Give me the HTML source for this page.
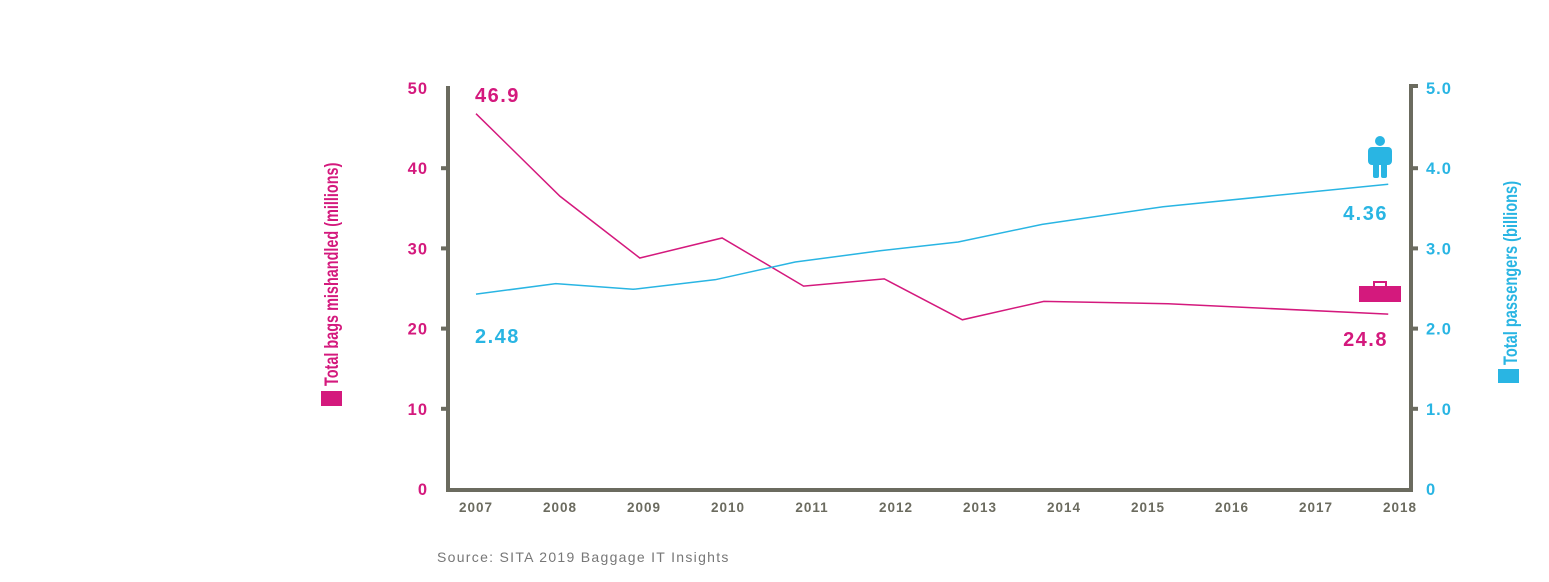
<!DOCTYPE html>
<html><head><meta charset="utf-8"><style>
body{margin:0;background:#fff;width:1549px;height:582px;overflow:hidden}
svg{display:block}
text{font-family:"Liberation Sans",sans-serif}
</style></head><body>
<svg width="1549" height="582">
<g id="axes"></g><g id="marks"></g>
<text x="437" y="562" font-size="14" fill="#777" letter-spacing="1.3">Source: SITA 2019 Baggage IT Insights</text>
<g transform="translate(338,386) rotate(-90)"><text x="0" y="0" font-size="19" font-weight="bold" fill="#d4197d" transform="scale(0.76,1)">Total bags mishandled (millions)</text></g>
<rect x="321" y="391" width="21" height="15" fill="#d4197d"/>
<g transform="translate(1517,365) rotate(-90)"><text x="0" y="0" font-size="19" font-weight="bold" fill="#29b5e3" transform="scale(0.77,1)">Total passengers (billions)</text></g>
<rect x="1498" y="369" width="21" height="14" fill="#29b5e3"/>
<g fill="#29b5e3">
<circle cx="1380" cy="141" r="5"/><rect x="1368" y="147" width="24" height="18" rx="4"/><rect x="1373" y="160" width="6" height="18" rx="2"/><rect x="1381" y="160" width="6" height="18" rx="2"/></g>
<g><rect x="1374" y="282" width="12" height="6" fill="none" stroke="#d4197d" stroke-width="2"/><rect x="1359" y="286" width="42" height="16" fill="#d4197d"/></g>
<text x="475" y="102" font-size="20" font-weight="bold" fill="#d4197d" letter-spacing="1.5">46.9</text>
<text x="475" y="343" font-size="20" font-weight="bold" fill="#29b5e3" letter-spacing="1.5">2.48</text>
<text x="1388" y="220" font-size="20" font-weight="bold" fill="#29b5e3" letter-spacing="1.5" text-anchor="end">4.36</text>
<text x="1388" y="346" font-size="20" font-weight="bold" fill="#d4197d" letter-spacing="1.5" text-anchor="end">24.8</text>
</svg>
<script>
const years=["2007","2008","2009","2010","2011","2012","2013","2014","2015","2016","2017","2018"];
const leftTicks=[0,10,20,30,40,50];
const rightTicks=["0","1.0","2.0","3.0","4.0","5.0"];
const bagsPos=[0,1,1.95,2.93,3.9,4.86,5.79,6.76,8.24,10.86];
const bagsVals=[46.8,36.5,28.8,31.3,25.3,26.2,21.1,23.4,23.1,21.8];
const paxPos=[0,0.95,1.87,2.85,3.8,4.81,5.74,6.74,8.18,10.86];
const paxVals=[2.43,2.56,2.49,2.61,2.83,2.97,3.08,3.30,3.52,3.80];
const NS="http://www.w3.org/2000/svg";
const x=i=>476+i*84;
const yL=v=>489-v*8.02;
const yR=v=>489-v*80.2;
const axes=document.getElementById('axes'),marks=document.getElementById('marks');
function mk(tag,at,p){const e=document.createElementNS(NS,tag);for(const k in at)e.setAttribute(k,at[k]);p.appendChild(e);return e;}
const ax=mk('path',{d:`M448 86 V490 H1411 V86 H1418`,fill:'none',stroke:'#6b6b5f','stroke-width':4},axes);


leftTicks.forEach((v,i)=>{
 const t=mk('text',{x:428,y:yL(v)+6,'font-size':16.5,'font-weight':'bold',fill:'#d4197d','text-anchor':'end','letter-spacing':1},axes);t.textContent=v;
 
 
 if(v>0&&v<50){const m=mk('line',{x1:441,x2:448,y1:yL(v),y2:yL(v),stroke:'#6b6b5f','stroke-width':4},axes);
 
 }
});
rightTicks.forEach((s,i)=>{
 const v=parseFloat(s);
 const t=mk('text',{x:1426,y:yR(v)+6,'font-size':16.5,'font-weight':'bold',fill:'#29b5e3','letter-spacing':1},axes);t.textContent=s;
 
 
 if(v>0&&v<5){const m=mk('line',{x1:1411,x2:1418,y1:yR(v),y2:yR(v),stroke:'#6b6b5f','stroke-width':4},axes);
 
 }
});
years.forEach((y,i)=>{
 const t=mk('text',{x:x(i),y:512,'font-size':13.5,'font-weight':'bold',fill:'#6b6b5f','text-anchor':'middle','letter-spacing':1},axes);t.textContent=y;
 
 
});
const pb=mk('polyline',{points:bagsPos.map((p,i)=>x(p)+','+yL(bagsVals[i])).join(' '),fill:'none',stroke:'#d4197d','stroke-width':1.5},marks);


const pp=mk('polyline',{points:paxPos.map((p,i)=>x(p)+','+yR(paxVals[i])).join(' '),fill:'none',stroke:'#29b5e3','stroke-width':1.5},marks);


</script>
</body></html>
